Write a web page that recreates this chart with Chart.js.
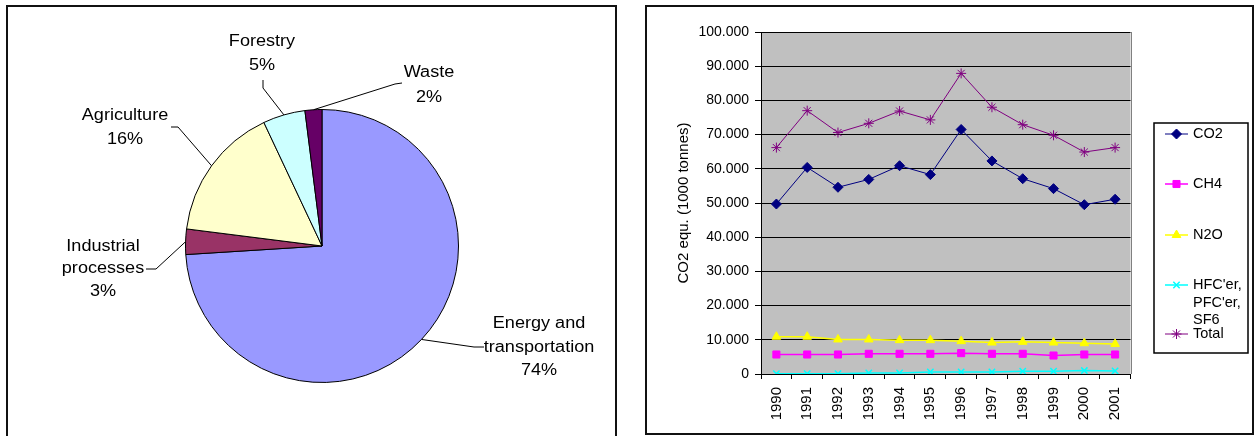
<!DOCTYPE html>
<html>
<head>
<meta charset="utf-8">
<script src="https://cdn.jsdelivr.net/npm/chart.js@4.4.1/dist/chart.umd.min.js"></script>
<style>
  html, body { margin: 0; padding: 0; background: #fff; overflow: hidden; }
  body { width: 1258px; height: 436px; position: relative; font-family: "Liberation Sans", Arial, sans-serif; }
  .panel { position: absolute; box-sizing: border-box; border: 2px solid #111; }
  #pieBox { left: 6px; top: 5px; width: 611px; height: 445px; }
  #lineBox { left: 645px; top: 5px; width: 609px; height: 430px; }
  canvas { position: absolute; top: 0; }
  #pie { left: 0; }
  #line { left: 640px; }
</style>
</head>
<body>
<div class="panel" id="pieBox"></div>
<div class="panel" id="lineBox"></div>
<canvas id="pie" width="640" height="436"></canvas>
<canvas id="line" width="618" height="436"></canvas>
<script>
// ---- Emissions by sector (share of total, %) ----
const sectors = ['Energy and transportation', 'Industrial processes', 'Agriculture', 'Forestry', 'Waste'];
const sectorLines = [['Energy and', 'transportation'], ['Industrial', 'processes'], ['Agriculture'], ['Forestry'], ['Waste']];
const shares = [74, 3, 16, 5, 2];
const sectorColors = ['#9999FF', '#993366', '#FFFFCC', '#CCFFFF', '#660066'];

// ---- Emissions by gas, 1000 tonnes CO2 equivalents ----
const years = ['1990', '1991', '1992', '1993', '1994', '1995', '1996', '1997', '1998', '1999', '2000', '2001'];
const co2   = [49700, 60400, 54600, 56900, 60900, 58300, 71500, 62300, 57100, 54200, 49500, 51100];
const ch4   = [5700, 5700, 5700, 5900, 5900, 5900, 6100, 5900, 5900, 5400, 5700, 5700];
const n2o   = [10900, 10900, 10100, 10100, 9900, 9900, 9600, 9200, 9400, 9200, 9000, 8800];
const fgas  = [100, 100, 100, 300, 300, 600, 600, 600, 800, 800, 1000, 900];
const total = [66200, 77000, 70600, 73300, 76900, 74300, 87900, 78000, 72900, 69800, 64900, 66200];

const yTickValues = [0, 10000, 20000, 30000, 40000, 50000, 60000, 70000, 80000, 90000, 100000];
const yTickLabels = ['0', '10.000', '20.000', '30.000', '40.000', '50.000', '60.000', '70.000', '80.000', '90.000', '100.000'];
const legendLines = [['CO2'], ['CH4'], ['N2O'], ["HFC'er,", "PFC'er,", 'SF6'], ['Total']];

const FONT = '"Liberation Sans", Arial, sans-serif';
Chart.defaults.font.family = FONT;
Chart.defaults.color = '#000';

// Text drawn slightly widened, like the chart's original typeface
function wideText(ctx, text, x, y, sx) {
  ctx.save();
  ctx.translate(x, y);
  ctx.scale(sx, 1);
  ctx.fillText(text, 0, 0);
  ctx.restore();
}

// ---------- Pie ----------
// label placement: text centre, line step, and leader elbow points (canvas px)
const pieLabelLayout = [
  { x: 539, y: 324, lh: 23.5, leader: [[484, 347], [474, 347]] },
  { x: 103, y: 246.5, lh: 22.5, leader: [[146, 269], [156, 269]] },
  { x: 125, y: 115.5, lh: 24, leader: [[171, 127], [178, 127]] },
  { x: 262, y: 41.5, lh: 24, leader: [[263, 80], [263, 88]] },
  { x: 429, y: 73, lh: 24.5, leader: [[402, 83], [395, 84]] }
];

const pieLabels = {
  id: 'pieLabels',
  afterDraw(chart) {
    const ctx = chart.ctx;
    const meta = chart.getDatasetMeta(0);
    ctx.save();
    ctx.strokeStyle = '#000';
    ctx.lineWidth = 1;
    ctx.fillStyle = '#000';
    ctx.font = '16px ' + FONT;
    ctx.textAlign = 'center';
    ctx.textBaseline = 'middle';
    meta.data.forEach((arc, i) => {
      const p = arc.getProps(['x', 'y', 'startAngle', 'endAngle', 'outerRadius'], true);
      const mid = (p.startAngle + p.endAngle) / 2;
      const ax = p.x + Math.cos(mid) * p.outerRadius;
      const ay = p.y + Math.sin(mid) * p.outerRadius;
      const lay = pieLabelLayout[i];
      ctx.beginPath();
      ctx.moveTo(lay.leader[0][0], lay.leader[0][1]);
      for (let k = 1; k < lay.leader.length; k++) ctx.lineTo(lay.leader[k][0], lay.leader[k][1]);
      ctx.lineTo(ax, ay);
      ctx.stroke();
      const lines = sectorLines[i].concat([shares[i] + '%']);
      lines.forEach((t, k) => wideText(ctx, t, lay.x, lay.y + k * lay.lh, 1.13));
    });
    ctx.restore();
  }
};

new Chart(document.getElementById('pie'), {
  type: 'pie',
  data: {
    labels: sectors,
    datasets: [{
      data: shares,
      backgroundColor: sectorColors,
      borderColor: '#000',
      borderWidth: 1
    }]
  },
  options: {
    responsive: false,
    animation: false,
    events: [],
    layout: { padding: { left: 185, top: 109, right: 181, bottom: 53 } },
    plugins: { legend: { display: false }, tooltip: { enabled: false } }
  },
  plugins: [pieLabels]
});

// ---------- Line chart ----------
const plotFrame = {
  id: 'plotFrame',
  beforeDraw(chart) {
    const { ctx, chartArea: a } = chart;
    ctx.save();
    ctx.fillStyle = '#C0C0C0';
    ctx.fillRect(a.left, a.top, a.right - a.left, a.bottom - a.top);
    ctx.restore();
  },
  beforeDatasetsDraw(chart) {
    const { ctx, chartArea: a } = chart;
    ctx.save();
    ctx.strokeStyle = '#808080';
    ctx.lineWidth = 1;
    ctx.beginPath();
    ctx.moveTo(Math.round(a.right) + 0.5, a.top);
    ctx.lineTo(Math.round(a.right) + 0.5, a.bottom);
    ctx.stroke();
    ctx.restore();
  }
};

// legend box and entry rows (canvas px)
const legendBox = { x: 514, y: 123, w: 94, h: 230 };
const legendRows = [134, 184, 235, 285, 334];
const legendStep = 17.5;

const boxLegend = {
  id: 'boxLegend',
  afterDraw(chart) {
    const ctx = chart.ctx;
    ctx.save();
    ctx.fillStyle = '#fff';
    ctx.fillRect(legendBox.x, legendBox.y, legendBox.w, legendBox.h);
    ctx.strokeStyle = '#000';
    ctx.lineWidth = 1.5;
    ctx.strokeRect(legendBox.x, legendBox.y, legendBox.w, legendBox.h);
    chart.data.datasets.forEach((ds, i) => {
      const y = legendRows[i];
      ctx.strokeStyle = ds.borderColor;
      ctx.fillStyle = ds.pointBackgroundColor;
      ctx.lineWidth = ds.borderWidth;
      ctx.beginPath();
      ctx.moveTo(525, y);
      ctx.lineTo(548, y);
      ctx.stroke();
      ctx.strokeStyle = ds.pointBorderColor;
      ctx.lineWidth = ds.pointBorderWidth;
      Chart.helpers.drawPoint(ctx, {
        pointStyle: ds.pointStyle, radius: ds.pointRadius, rotation: 0, borderWidth: ds.pointBorderWidth
      }, 536.5, y);
      ctx.fillStyle = '#000';
      ctx.font = '14.5px ' + FONT;
      ctx.textAlign = 'left';
      ctx.textBaseline = 'middle';
      legendLines[i].forEach((t, k) => ctx.fillText(t, 553, y + k * legendStep));
    });
    ctx.restore();
  }
};

function series(label, data, color, style, radius, width, pointWidth) {
  return {
    label, data,
    borderColor: color, backgroundColor: color,
    pointStyle: style, pointRadius: radius,
    pointBackgroundColor: color, pointBorderColor: color, pointBorderWidth: pointWidth,
    borderWidth: width, tension: 0, fill: false
  };
}

new Chart(document.getElementById('line'), {
  type: 'line',
  data: {
    labels: years,
    datasets: [
      series('CO2', co2, '#000080', 'rectRot', 5, 1, 1),
      series('CH4', ch4, '#FF00FF', 'rect', 5, 1.5, 1),
      series('N2O', n2o, '#FFFF00', 'triangle', 5, 1.5, 1),
      series("HFC'er, PFC'er, SF6", fgas, '#00FFFF', 'crossRot', 4.5, 1.5, 1.5),
      series('Total', total, '#800080', 'star', 5, 1, 1)
    ]
  },
  options: {
    responsive: false,
    animation: false,
    events: [],
    layout: { padding: { left: 0, top: 32, right: 127.5, bottom: 0 } },
    plugins: { legend: { display: false }, tooltip: { enabled: false } },
    scales: {
      x: {
        type: 'category',
        offset: true,
        grid: { display: true, drawOnChartArea: false, drawTicks: true, tickLength: 5, offset: true, color: '#000', tickColor: '#000' },
        border: { display: true, color: '#000', width: 1 },
        ticks: { color: '#000', font: { size: 15 }, minRotation: 90, maxRotation: 90, padding: 8, autoSkip: false },
        afterFit(s) { s.height = 62; }
      },
      y: {
        min: 0,
        max: 100000,
        afterBuildTicks(s) { s.ticks = yTickValues.map(v => ({ value: v })); },
        ticks: { color: '#000', font: { size: 14 }, padding: 6, callback: (v, i) => yTickLabels[i] },
        grid: { color: '#000', tickColor: '#000', tickLength: 6, lineWidth: 1 },
        border: { display: true, color: '#000', width: 1 },
        title: { display: true, text: 'CO2 equ. (1000 tonnes)', color: '#000', font: { size: 15 }, padding: { top: 35, bottom: 0 } },
        afterFit(s) { s.width = 121; }
      }
    }
  },
  plugins: [plotFrame, boxLegend]
});
</script>
</body>
</html>
